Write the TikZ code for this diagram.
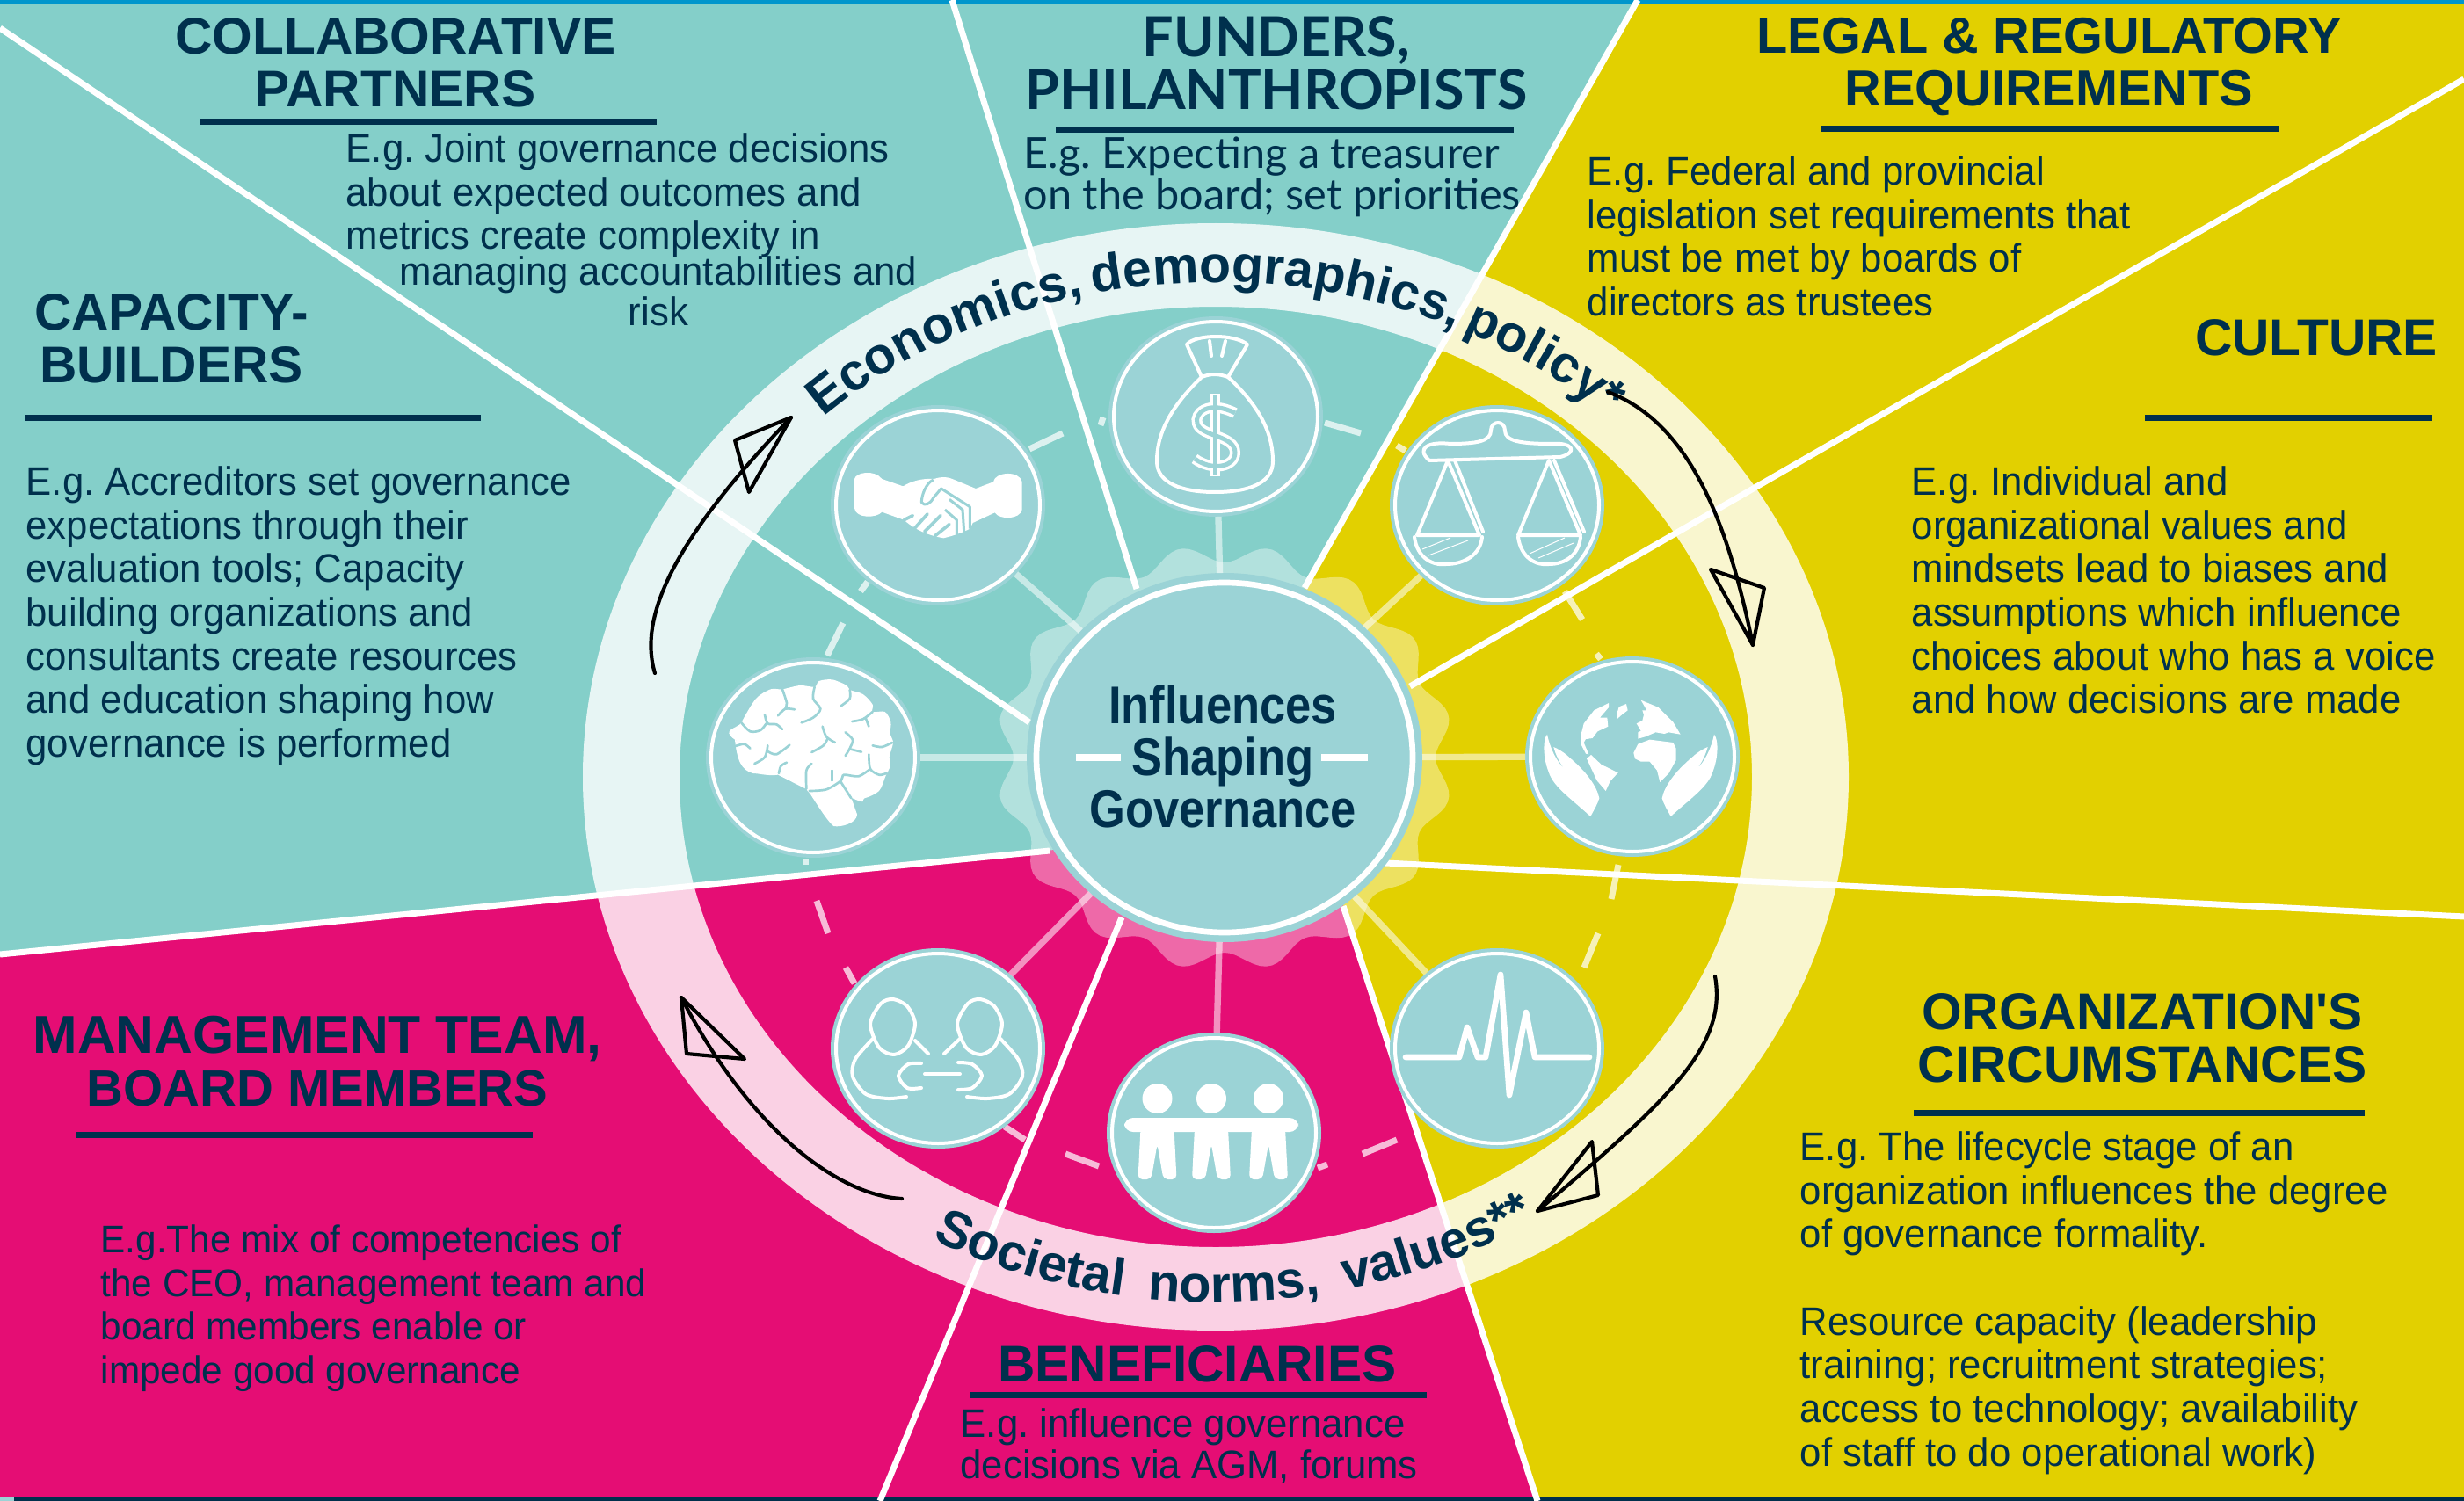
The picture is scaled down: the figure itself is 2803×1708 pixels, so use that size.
\documentclass[tikz,border=0pt]{standalone}
\usepackage{fontspec}
\usetikzlibrary{shapes.geometric,decorations.text}
\setmainfont{Liberation Sans}
\newfontfamily\titlef{Liberation Sans}
\newfontfamily\bodyf[FakeStretch=0.965]{Liberation Sans}
\newfontfamily\latof{Lato}
\newfontfamily\hubf[FakeStretch=0.87]{Liberation Sans}
\definecolor{teal}{HTML}{84CFC9}
\definecolor{yel}{HTML}{E2D000}
\definecolor{pnk}{HTML}{E50D74}
\definecolor{ink}{HTML}{00304D}
\definecolor{iconc}{HTML}{9BD3D6}
\definecolor{topb}{HTML}{0096CC}
\frenchspacing
\tikzset{
 titlet/.style={inner sep=0pt,anchor=north,align=center,text=ink,font=\titlef\fontsize{17.6}{18}\selectfont\bfseries},
 bodyt/.style={inner sep=0pt,anchor=north west,align=left,text=ink,font=\bodyf\fontsize{13.6}{14.9}\selectfont},
 rule/.style={draw=ink,line width=2.1pt},
 sector/.style={draw=white,line width=2.1pt},
 dashp/.style={draw=white,opacity=.72,line width=2.1pt},
 conn/.style={draw=white,opacity=.55,line width=2.2pt},
 icon/.style={ellipse,fill=iconc,inner sep=0pt,outer sep=0pt,minimum width=73.2pt,minimum height=68.4pt},
 iline/.style={draw=white,line width=1.2pt,line cap=round,line join=round},
 sulc/.style={draw=iconc,line width=.8pt,line cap=round},
 sk/.style={draw=black,line width=1.25pt,line cap=round,line join=round},
 hubc/.style={ellipse,fill=iconc,inner sep=0pt,outer sep=0pt,minimum width=135pt,minimum height=126pt}
}
\begin{document}
\begin{tikzpicture}[x=0.3pt,y=-0.3pt]
\useasboundingbox (0,0) rectangle (2803,1708);
\clip (0,0) rectangle (2803,1708);
% sectors
\fill[teal] (0,0) rectangle (2803,1708);
\fill[yel] (1863,0) -- (1484,669) -- (1393,862) -- (1500,945) -- (1749,1708) -- (2803,1708) -- (2803,0) -- cycle;
\fill[pnk] (0,1086) -- (1391,948) -- (1500,945) -- (1749,1708) -- (0,1708) -- cycle;
% edge strips
\fill[topb] (0,0) rectangle (2803,4);
\fill[ink] (16,1704) rectangle (2803,1708);
\fill[iconc] (0,1704) rectangle (16,1708);
% outer ring
\fill[white,opacity=.81,even odd rule] (1383,884) ellipse [x radius=720,y radius=630] (1383,884) ellipse [x radius=610,y radius=535];
% scallop
\fill[white,opacity=.38] plot[domain=0:360,samples=241,variable=\t] ({1393+(250+10*cos(16*(\t-258.75)))*cos(\t)},{862-(232+10*cos(16*(\t-258.75)))*sin(\t)}) -- cycle;
% sector lines
\coordinate (e1) at (0,32);    \coordinate (h1) at (1171,822);
\coordinate (e2) at (1083,0);  \coordinate (h2) at (1293,670);
\coordinate (e3) at (1863,0);  \coordinate (h3) at (1484,669);
\coordinate (e4) at (2803,90); \coordinate (h4) at (1604,781);
\coordinate (e5) at (2803,1043); \coordinate (h5) at (1576,982);
\coordinate (e6) at (1749,1708); \coordinate (h6) at (1528,1031);
\coordinate (e7) at (1001,1708); \coordinate (h7) at (1276,1044);
\coordinate (e8) at (0,1086);  \coordinate (h8) at (1194,968);
\foreach \n in {1,...,8} \draw[sector] (e\n) -- (h\n);
% dashes of the inner orbit
\foreach \a/\b/\c/\d in {1171/511/1209/493,1252/484/1255/475,979/673/987/662,941/746/959/709,1507/481/1548/493,1589/507/1599/513,1780/673/1800/705,1816/744/1821/750,1841/984/1833/1023,1818/1062/1802/1101,1550/1313/1589/1297,1499/1329/1510/1325,1143/1282/1166/1297,1212/1313/1250/1327,916/978/916/984,929/1025/942/1062,962/1101/972/1119}
  \draw[dashp] (\a,\b) -- (\c,\d);
% nodes
\node[hubc] (hub) at (1393,862) {};
\node[icon] (bag) at (1383,474) {};
\node[icon] (scales) at (1703,575) {};
\node[icon] (globe) at (1857,861) {};
\node[icon] (ecg) at (1703,1193) {};
\node[icon] (people) at (1381,1289) {};
\node[icon] (hands) at (1067,1193) {};
\node[icon] (brain) at (925,862) {};
\node[icon] (shake) at (1067,575) {};
% connectors
\foreach \m in {bag,scales,globe,ecg,people,hands,brain,shake} \draw[conn] (hub) -- (\m);
% white rings
\foreach \m in {bag,scales,globe,ecg,people,hands,brain,shake}
  \draw[white,line width=1.2pt] (\m) ellipse [x radius=116,y radius=108];
\draw[white,line width=2pt] (hub) ellipse [x radius=214,y radius=199];
\node[inner sep=0pt,text=ink,align=center,font=\hubf\fontsize{18.1}{17.7}\selectfont\bfseries] (hubtext) at (1391,861) {Influences\\Shaping\\Governance};
\coordinate (sl1) at (1224,862); \coordinate (sl2) at (1275,862);
\coordinate (sr1) at (1503,862); \coordinate (sr2) at (1556,862);
\draw[white,line width=2.4pt] (sl1) -- (sl2) (sr1) -- (sr2);
% money bag
\draw[iline] (1367,429) .. controls (1335,460) and (1316,490) .. (1316,525) .. controls (1316,550) and (1345,560) .. (1382,560) .. controls (1420,560) and (1448,550) .. (1448,525) .. controls (1448,490) and (1430,460) .. (1397,429) .. controls (1385,425) and (1378,425) .. (1367,429) -- cycle;
\draw[iline] (1367,429) -- (1350,392) .. controls (1360,380) and (1405,380) .. (1419,392) -- (1397,429);
\draw[iline] (1376,388) -- (1378,405) (1394,388) -- (1390,405);
\draw[white,line width=3.6pt] (1382,448) -- (1382,542);
\draw[white,line width=3.6pt] (1405,470) .. controls (1375,455) and (1358,470) .. (1362,482) .. controls (1366,497) and (1405,495) .. (1405,515) .. controls (1405,532) and (1378,536) .. (1359,522);
\draw[iconc,line width=1.5pt] (1382,450) -- (1382,540);
\draw[iconc,line width=1.5pt] (1405,470) .. controls (1375,455) and (1358,470) .. (1362,482) .. controls (1366,497) and (1405,495) .. (1405,515) .. controls (1405,532) and (1378,536) .. (1359,522);
% scales
\draw[iline] (1626,524) .. controls (1610,510) and (1625,502) .. (1650,505) .. controls (1680,505) and (1696,502) .. (1696,490) .. controls (1696,478) and (1712,478) .. (1712,490) .. controls (1712,502) and (1730,505) .. (1765,505) .. controls (1790,503) and (1795,515) .. (1775,520) -- (1626,524);
\draw[iline] (1647,524) -- (1612,609) -- (1683,609) -- cycle;
\draw[iline] (1655,524) -- (1687,605);
\draw[iline] (1762,524) -- (1727,609) -- (1798,609) -- cycle;
\draw[iline] (1768,524) -- (1802,605);
\draw[iline] (1609,611) .. controls (1612,635) and (1630,644) .. (1645,642) .. controls (1665,642) and (1684,632) .. (1686,611);
\draw[iline] (1727,611) .. controls (1730,635) and (1748,644) .. (1762,642) .. controls (1780,642) and (1796,632) .. (1798,611);
\draw[white,line width=.3pt] (1618,625) -- (1650,612) (1625,632) -- (1670,615) (1740,630) -- (1780,612) (1750,635) -- (1790,618);
% ecg
\draw[white,line width=2pt,line join=round,line cap=round] (1599,1203) -- (1660,1203) -- (1669,1169) -- (1681,1203) -- (1690,1203) -- (1707,1109) -- (1717,1246) -- (1736,1152) -- (1746,1203) -- (1808,1203);
% three people
\fill[white,rounded corners=3pt] (1279,1272) rectangle (1477,1288);
\foreach \k in {1316.5,1378,1443} {
  \begin{scope}[shift={(\k,0)}]
    \fill[white] (0,1250) ellipse [x radius=17,y radius=17];
    \fill[white,rounded corners=1.5pt] (-19,1284) -- (-22,1342) -- (-7,1342) -- (0,1302) -- (7,1342) -- (22,1342) -- (19,1284) -- cycle;
  \end{scope}}
% two people holding hands
\draw[iline] plot[smooth cycle] coordinates {(990,1165) (1002,1142) (1016,1137) (1032,1145) (1041,1165) (1033,1190) (1017,1200) (1000,1192)};
\draw[iline] plot[smooth cycle] coordinates {(1089,1165) (1101,1142) (1115,1137) (1131,1145) (1140,1165) (1132,1190) (1116,1200) (1099,1192)};
\draw[iline] plot[smooth] coordinates {(993,1182) (973,1205) (970,1225) (985,1245) (1010,1250) (1031,1248)};
\draw[iline] plot[smooth] coordinates {(1041,1184) (1056,1199)};
\draw[iline] plot[smooth] coordinates {(1138,1182) (1158,1205) (1163,1225) (1148,1245) (1123,1250) (1100,1248)};
\draw[iline] plot[smooth] coordinates {(1092,1182) (1074,1199)};
\draw[iline] plot[smooth] coordinates {(1048,1210) (1033,1211) (1022,1224) (1032,1238) (1048,1238)};
\draw[iline] plot[smooth] coordinates {(1090,1209) (1106,1211) (1117,1224) (1106,1238) (1090,1240)};
\draw[iline] (1052,1222) -- (1092,1222);
% handshake
\begin{scope}[shift={(940,460)},scale=1/3]
\fill[white] (96,255) .. controls (100,232) and (165,222) .. (190,255) -- (262,280) .. controls (290,262) and (330,252) .. (368,255) .. controls (395,245) and (420,250) .. (430,255) -- (510,288) -- (570,265) .. controls (575,230) and (660,225) .. (668,265) -- (668,360) .. controls (660,395) and (590,395) .. (575,370) -- (500,405) -- (490,425) .. controls (460,440) and (430,450) .. (400,457) .. controls (360,450) and (310,435) .. (265,395) -- (190,368) .. controls (170,390) and (100,390) .. (96,355) -- cycle;
\draw[iconc,line width=.9pt,line join=round] (365,258) .. controls (340,270) and (325,310) .. (325,335) .. controls (335,350) and (355,340) .. (365,320) -- (392,288) -- (490,350) -- (490,425);
\draw[iconc,line width=.9pt,line join=round] (420,325) -- (465,360) -- (470,435);
\draw[iconc,line width=.9pt,line join=round] (405,360) -- (445,395) -- (445,445);
\draw[iconc,line width=1.1pt,line cap=round] (265,395) -- (295,380) (300,425) -- (345,375) (335,435) -- (390,380) (370,450) -- (420,410);
\end{scope}
% brain
\begin{scope}[shift={(800,745)},scale=1/3]
\fill[white] plot[smooth cycle] coordinates {(108,290) (130,232) (180,150) (230,118) (270,118) (330,105) (380,110) (395,90) (440,85) (490,105) (500,120) (545,135) (578,170) (578,195) (620,195) (640,230) (638,270) (648,300) (635,350) (638,380) (622,415) (600,465) (550,490) (505,488)};
\fill[white] (108,290) -- (505,488) -- (525,545) .. controls (525,575) and (470,590) .. (445,585) .. controls (430,575) and (400,530) .. (365,475) -- (350,458) -- (255,410) .. controls (220,415) and (190,405) .. (170,405) .. controls (130,395) and (115,360) .. (108,290) -- cycle;
\foreach \cc in {
 {(270,118) (285,165) (280,185)},{(255,208) (280,185) (312,187)},
 {(130,232) (160,262) (195,258) (215,235)},{(210,205) (220,235) (250,238) (270,255)},
 {(110,312) (140,305) (160,320)},{(175,372) (210,350) (220,310)},{(220,330) (250,340) (295,308)},
 {(380,110) (375,150) (400,185) (375,215) (335,232)},{(500,120) (500,150) (470,175)},
 {(508,228) (545,220) (578,195)},{(555,218) (565,245)},{(407,245) (420,280) (450,300)},
 {(425,285) (410,310) (370,333)},{(485,265) (510,290) (500,320) (485,345)},{(500,322) (540,332)},
 {(578,310) (610,315) (645,300)},{(565,340) (570,390) (600,410) (625,405)},{(285,368) (265,380) (258,405)},
 {(370,372) (352,395) (352,458)},{(440,395) (440,430)},{(362,465) (420,460) (470,430) (480,410) (530,415) (570,390)}}
  \draw[sulc] plot[smooth] coordinates \cc;
\draw[sulc] (470,435) -- (505,490);
\end{scope}
% globe in hands
\begin{scope}[shift={(1730,745)},scale=1/3]
\fill[white] (90,272) .. controls (75,290) and (75,350) .. (95,400) .. controls (110,450) and (170,490) .. (238,552) .. controls (250,530) and (262,510) .. (268,490) .. controls (260,450) and (225,400) .. (165,350) .. controls (150,335) and (125,320) .. (112,315) .. controls (118,340) and (135,375) .. (150,390) .. controls (125,370) and (100,320) .. (90,272) -- cycle;
\fill[white] (660,272) .. controls (675,290) and (675,350) .. (655,400) .. controls (640,450) and (580,490) .. (512,552) .. controls (500,530) and (488,510) .. (482,490) .. controls (490,450) and (525,400) .. (585,350) .. controls (600,335) and (625,320) .. (638,315) .. controls (632,340) and (615,375) .. (600,390) .. controls (625,370) and (650,320) .. (660,272) -- cycle;
\fill[white] (300,165) -- (250,190) -- (215,235) -- (205,275) -- (205,305) -- (222,338) -- (232,340) -- (215,300) -- (222,288) -- (245,285) -- (262,262) -- (298,245) -- (295,215) -- (270,215) -- (300,180) -- cycle;
\fill[white] (335,178) -- (360,168) -- (365,190) -- (345,205) -- (328,220) -- (330,195) -- cycle;
\fill[white] (225,355) -- (240,342) -- (275,375) -- (332,403) -- (305,432) -- (290,465) -- (260,430) -- cycle;
\fill[white] (410,155) -- (470,180) -- (520,230) -- (545,272) -- (505,265) -- (490,270) -- (460,265) -- (425,280) -- (400,287) -- (400,265) -- (410,260) -- (395,235) -- (415,225) -- (420,205) -- (415,190) -- (430,190) -- cycle;
\fill[white] (385,335) -- (400,305) -- (440,290) -- (480,295) -- (520,300) -- (530,320) -- (530,360) -- (505,405) -- (475,435) -- (465,395) -- (440,365) -- (410,365) -- (390,355) -- cycle;
\end{scope}
% curved labels
\path[decorate,decoration={text along path,text align=center,text={|\fontsize{17.7}{20}\selectfont\bfseries\color{ink}|Economics,{\rule{3.2pt}{0pt}}demographics,{\rule{2.5pt}{0pt}}policy*}}] plot[domain=135:45,samples=46,variable=\t] ({1383+650*cos(\t)},{884-563*sin(\t)});
\path[decorate,decoration={text along path,text align=center,text={|\fontsize{17.8}{20}\selectfont\bfseries\color{ink}|Societal{\rule{8.5pt}{0pt}}norms,{\rule{8.5pt}{0pt}}values**}}] plot[domain=240:304,samples=33,variable=\t] ({1383+680*cos(\t)},{884-598*sin(\t)});
% sketched arrows
\coordinate (a1s) at (745,766); \coordinate (a1t) at (900,475);
\draw[sk] (a1s) .. controls (725,700) and (770,610) .. (a1t);
\draw[sk] (a1t) -- (836,501) -- (852,560) -- cycle;
\coordinate (a2s) at (1829,446); \coordinate (a2t) at (1994,734);
\draw[sk] (a2s) .. controls (1920,480) and (1965,590) .. (a2t);
\draw[sk] (a2t) -- (1946,648) -- (2007,669) -- cycle;
\coordinate (a3s) at (1951,1111); \coordinate (a3t) at (1749,1378);
\draw[sk] (a3s) .. controls (1965,1190) and (1900,1250) .. (a3t);
\draw[sk] (a3t) -- (1811,1299) -- (1818,1360) -- cycle;
\coordinate (a4s) at (1026,1364); \coordinate (a4t) at (775,1135);
\draw[sk] (a4s) .. controls (950,1360) and (850,1280) .. (a4t);
\draw[sk] (a4t) -- (781,1199) -- (847,1205) -- cycle;
% titles and rules
\node[titlet] (t1) at (450,20) {COLLABORATIVE\\PARTNERS};
\draw[rule] (227,139) -- (747,139);
\node[titlet,font=\latof\fontsize{18.85}{17.9}\selectfont\bfseries] (t2) at (1452,18) {FUNDERS,\\PHILANTHROPISTS};
\draw[rule] (1201,148) -- (1722,148);
\node[titlet,font=\titlef\fontsize{17.3}{18}\selectfont\bfseries] (t3) at (2331,20) {LEGAL \& REGULATORY\\REQUIREMENTS};
\draw[rule] (2072,147) -- (2592,147);
\node[titlet] (t4) at (195,334) {CAPACITY-\\BUILDERS};
\draw[rule] (29,475) -- (547,475);
\node[titlet] (t5) at (2635,363) {CULTURE};
\draw[rule] (2440,475) -- (2767,475);
\node[titlet] (t6) at (2437,1130) {ORGANIZATION'S\\CIRCUMSTANCES};
\draw[rule] (2177,1266) -- (2690,1266);
\node[titlet,font=\titlef\fontsize{18.2}{18}\selectfont\bfseries] (t7) at (361,1155) {MANAGEMENT TEAM,\\{\fontsize{17.4}{18}\selectfont BOARD MEMBERS}};
\draw[rule] (86,1291) -- (606,1291);
\node[titlet] (t8) at (1362,1531) {BENEFICIARIES};
\draw[rule] (1103,1587) -- (1623,1587);
% body text
\node[bodyt] (b1) at (393,151) {E.g. Joint governance decisions\\about expected outcomes and\\metrics create complexity in};
\node[bodyt,anchor=north,align=center,font=\bodyf\fontsize{13.6}{13.9}\selectfont] (b1b) at (749,291) {managing accountabilities and\\risk};
\node[bodyt,font=\latof\fontsize{14.6}{14}\selectfont] (b2) at (1164,155) {E.g. Expecting a treasurer\\on the board; set priorities};
\node[bodyt] (b3) at (1805,177) {E.g. Federal and provincial\\legislation set requirements that\\must be met by boards of\\directors as trustees};
\node[bodyt] (b4) at (29,530) {E.g. Accreditors set governance\\expectations through their\\evaluation tools; Capacity\\building organizations and\\consultants create resources\\and education shaping how\\governance is performed};
\node[bodyt] (b5) at (2174,530) {E.g. Individual and\\organizational values and\\mindsets lead to biases and\\assumptions which influence\\choices about who has a voice\\and how decisions are made};
\node[bodyt] (b6) at (2047,1287) {E.g. The lifecycle stage of an\\organization influences the degree\\of governance formality.\\[14.9pt]Resource capacity (leadership\\training; recruitment strategies;\\access to technology; availability\\of staff to do operational work)};
\node[bodyt,font=\bodyf\fontsize{13.15}{14.9}\selectfont] (b7) at (114,1393) {E.g.The mix of competencies of\\the CEO, management team and\\board members enable or\\impede good governance};
\node[bodyt,font=\bodyf\fontsize{13.6}{14}\selectfont] (b8) at (1092,1602) {E.g. influence governance\\decisions via AGM, forums};
\end{tikzpicture}
\end{document}
